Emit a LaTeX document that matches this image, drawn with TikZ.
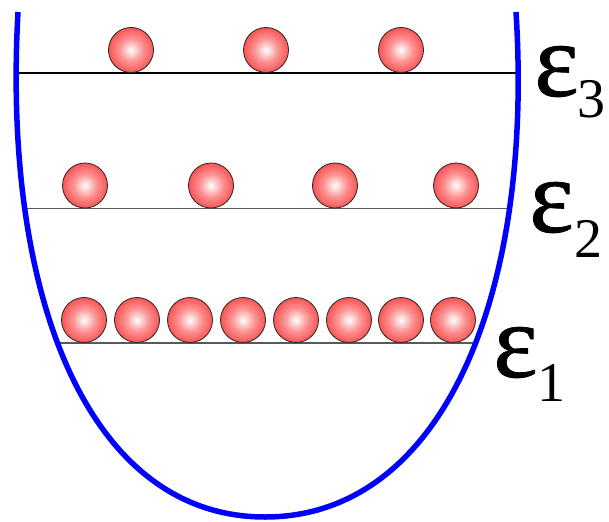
\documentclass[tikz,border=0pt]{standalone}
\usepackage{fontspec}
\setmainfont{Liberation Serif}
\newfontfamily\epsfont[FakeBold=0.7]{Liberation Serif}
\definecolor{ballred}{RGB}{250,85,85}
\definecolor{wellblue}{RGB}{0,0,255}
\pgfdeclareradialshading{ballshade}{\pgfpoint{0bp}{0bp}}{%
  color(0bp)=(white); color(3bp)=(white!85!ballred); color(13bp)=(ballred!64!white);
  color(25bp)=(ballred); color(50bp)=(ballred)}
\tikzset{
  ball/.style={circle, minimum size=45pt, inner sep=0pt, draw=black!85, line width=0.8pt,
    shading=ballshade},
  level/.style={draw=black!65, line width=1.6pt},
  toplevel/.style={draw=black, line width=1.2pt},
  well/.style={draw=wellblue, line width=5.5pt, line cap=butt},
  eps/.style={anchor=base west, inner sep=0pt, font=\epsfont\fontsize{106}{110}\selectfont},
  idx/.style={anchor=base west, inner sep=0pt, font=\fontsize{56}{60}\selectfont}
}
\begin{document}
\begin{tikzpicture}[x=1pt,y=-1pt]
\useasboundingbox (0,0) rectangle (609,521);
\coordinate (wl) at (18,12);
\coordinate (wb) at (265,517);
\coordinate (wr) at (516,12);
% energy levels, clipped to the well
\begin{scope}
  \clip (18,-20) -- (wl) .. controls (2,300) and (90,517) .. (wb)
        .. controls (440,517) and (534,300) .. (wr) -- (516,-20) -- cycle;
  \draw[toplevel] (0,73) -- (609,73);
  \draw[level] (0,208.5) -- (609,208.5);
  \draw[level] (0,343) -- (609,343);
\end{scope}
% the well
\draw[well] (wl) .. controls (2,300) and (90,517) .. (wb)
      .. controls (440,517) and (534,300) .. (wr);
% level 3
\node[ball] (b31) at (131,50) {};
\node[ball] (b32) at (266,50) {};
\node[ball] (b33) at (401,50) {};
% level 2
\node[ball] (b21) at (85,185.5) {};
\node[ball] (b22) at (211,185.5) {};
\node[ball] (b23) at (335,185.5) {};
\node[ball] (b24) at (456,185.5) {};
% level 1
\foreach \i/\x in {1/84,2/137,3/190,4/243,5/296,6/349,7/401,8/453}
  \node[ball] (b1\i) at (\x,320) {};
% labels
\node[eps] (e3) at (534,96) {ε};
\node[idx] (i3) at (577,118) {3};
\node[eps] (e2) at (529,232) {ε};
\node[idx] (i2) at (574,257) {2};
\node[eps] (e1) at (493,377) {ε};
\node[idx] (i1) at (537,401) {1};
\end{tikzpicture}
\end{document}
